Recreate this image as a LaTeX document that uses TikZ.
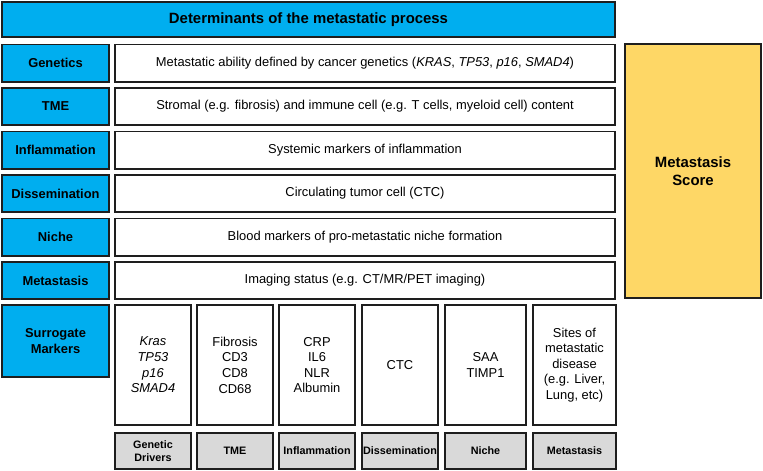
\documentclass[tikz,border=0pt]{standalone}
\usepackage{fontspec}
\setmainfont{Liberation Sans}
\definecolor{cblue}{HTML}{00AEEF}
\definecolor{cyell}{HTML}{FED766}
\definecolor{cgrey}{HTML}{D9D9D9}
\definecolor{cline}{HTML}{1E1E1E}
\begin{document}
\begin{tikzpicture}[x=1pt,y=-1pt,
  box/.style={draw=cline,line width=1.6pt,inner sep=0pt,align=center,rectangle},
  lbl/.style={box,fill=cblue,font=\fontsize{12.9}{15.6}\selectfont\bfseries,minimum width=107.4pt,minimum height=37.4pt},
  row/.style={box,fill=white,font=\fontsize{12.9}{15.6}\selectfont,minimum width=500.4pt,minimum height=37.4pt},
  col/.style={box,fill=white,font=\fontsize{12.9}{15.6}\selectfont,minimum height=120.4pt},
  bot/.style={box,fill=cgrey,font=\fontsize{10.8}{13}\selectfont\bfseries,minimum height=36.4pt},
]
\useasboundingbox (0,0) rectangle (763,471);
\node[box,fill=cblue,font=\fontsize{14.9}{18}\selectfont\bfseries,minimum width=613.4pt,minimum height=35.4pt] (title) at (308.5,19.5) {Determinants of the metastatic process};

\node[lbl] (lgen) at (55.5,63) {Genetics};
\node[lbl] (ltme) at (55.5,106.5) {TME};
\node[lbl] (linf) at (55.5,150) {Inflammation};
\node[lbl] (ldis) at (55.5,193.5) {Dissemination};
\node[lbl] (lnic) at (55.5,237) {Niche};
\node[lbl] (lmet) at (55.5,280.5) {Metastasis};

\node[row] (rgen) at (365,63) {Metastatic ability defined by cancer genetics (\textit{KRAS}, \textit{TP53}, \textit{p16}, \textit{SMAD4})};
\node[row] (rtme) at (365,106.5) {Stromal (e.g. fibrosis) and immune cell (e.g. T cells, myeloid cell) content};
\node[row] (rinf) at (365,150) {Systemic markers of inflammation};
\node[row] (rdis) at (365,193.5) {Circulating tumor cell (CTC)};
\node[row] (rnic) at (365,237) {Blood markers of pro-metastatic niche formation};
\node[row] (rmet) at (365,280.5) {Imaging status (e.g. CT/MR/PET imaging)};

\node[box,fill=cyell,font=\fontsize{14.9}{18.3}\selectfont\bfseries,minimum width=136.4pt,minimum height=254.4pt] (score) at (693,171) {Metastasis\\Score};

\node[lbl,minimum height=72.4pt] (lsur) at (55.5,341) {Surrogate\\Markers};

\node[col,minimum width=76.4pt] (c1) at (153,365) {\textit{Kras}\\\textit{TP53}\\\textit{p16}\\\textit{SMAD4}};
\node[col,minimum width=76.4pt] (c2) at (235,365) {Fibrosis\\CD3\\CD8\\CD68};
\node[col,minimum width=76.4pt] (c3) at (317,365) {CRP\\IL6\\NLR\\Albumin};
\node[col,minimum width=76.4pt] (c4) at (400,365) {CTC};
\node[col,minimum width=81.4pt] (c5) at (485.5,365) {SAA\\TIMP1};
\node[col,minimum width=83.4pt] (c6) at (574.5,365) {Sites of\\metastatic\\disease\\(e.g. Liver,\\Lung, etc)};

\node[bot,minimum width=76.4pt] (b1) at (153,451) {Genetic\\Drivers};
\node[bot,minimum width=76.4pt] (b2) at (235,451) {TME};
\node[bot,minimum width=76.4pt] (b3) at (317,451) {Inflammation};
\node[bot,minimum width=76.4pt] (b4) at (400,451) {Dissemination};
\node[bot,minimum width=81.4pt] (b5) at (485.5,451) {Niche};
\node[bot,minimum width=83.4pt] (b6) at (574.5,451) {Metastasis};
\end{tikzpicture}
\end{document}
